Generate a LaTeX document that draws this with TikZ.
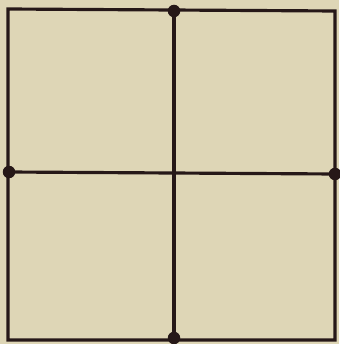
\documentclass[tikz,border=0pt]{standalone}
\usepackage{tikz}
\usetikzlibrary{positioning}
\definecolor{paper}{RGB}{222,214,182}
\definecolor{ink}{RGB}{38,24,24}

\begin{document}
\begin{tikzpicture}[
  x=0.02cm, y=-0.02cm,
  edge/.style={draw=ink, line width=1.8pt},
  dot/.style={circle, fill=ink, inner sep=0pt, minimum size=0.25cm}
]
\fill[paper] (0,0) rectangle (339,344);
\useasboundingbox (0,0) rectangle (339,344);

% corners of the square
\coordinate (nw) at (8,9);
\coordinate (ne) at (335,11);
\coordinate (se) at (335,340);
\coordinate (sw) at (8,340);

% midpoints with dots
\node[dot] (top) at (174,11) {};
\node[dot] (left) at (9,172) {};
\node[dot] (right) at (335,174) {};
\node[dot] (bottom) at (174,338) {};

\draw[edge] (nw) -- (ne) -- (se) -- (sw) -- cycle;
\draw[edge] (top.center) -- (bottom.center);
\draw[edge] (left.center) -- (right.center);
\end{tikzpicture}
\end{document}
